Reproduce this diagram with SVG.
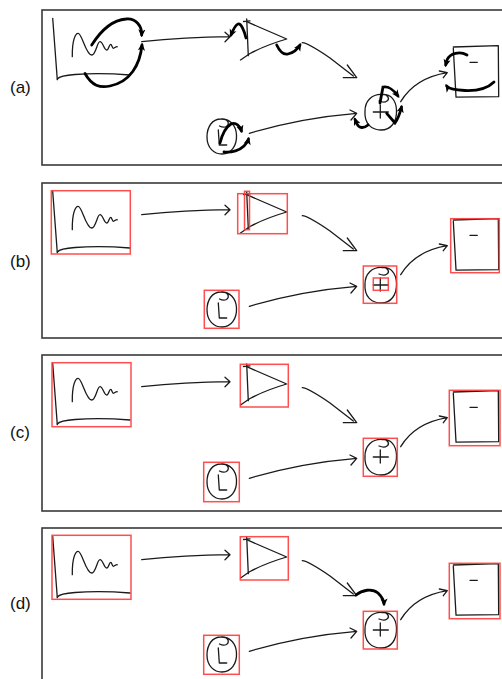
<svg xmlns="http://www.w3.org/2000/svg" xmlns:xlink="http://www.w3.org/1999/xlink" width="502" height="679" viewBox="0 0 502 679">
<style>
.frame{fill:#fff;stroke:#3a3a3a;stroke-width:1.6}
.lbl{font-family:"Liberation Sans",Arial,sans-serif;font-size:17px;fill:#111}
.ink{fill:none;stroke:#1a1a1a;stroke-width:1.3;stroke-linecap:round;stroke-linejoin:round}
.bold{fill:none;stroke:#000;stroke-width:2.8;stroke-linecap:round;marker-end:url(#bh)}
.sel{fill:none;stroke:#ff3b3b;stroke-width:1.5;stroke-opacity:0.9}
</style>
<defs>
<marker id="bh" viewBox="0 0 10 10" refX="7" refY="5" markerWidth="8" markerHeight="8" markerUnits="userSpaceOnUse" orient="auto">
<path d="M0,0.5 L10,5 L0,9.5 L2.5,5 z" fill="#000"/>
</marker>
<g id="s-wave">
<path class="ink" d="M52.7,18.3 L57.3,79.7"/>
<path class="ink" d="M57.3,79 Q60,75.5 75,74.5 Q100,72.5 130,75"/>
<path class="ink" d="M72.3,56.7 C72,40 75.5,33 78.3,33.3 C82,33.6 86,55 91.7,55 C96,55 97,41.7 100,41.7 C103,41.7 104,50 106.7,50 C109,50 109,44.3 110.7,44.3 C112,44.3 112,48.3 113.3,48.3 C115,48.3 116,46 117.3,46.7"/>
</g>
<g id="s-tri">
<path class="ink" d="M246.7,19 L248.3,55.7 M243.5,21.5 L250,20.8"/>
<path class="ink" d="M246.7,21.7 L286.7,39 Q266,45 250,53.5 L240.5,60"/>
</g>
<g id="s-plus">
<path class="ink" d="M382,94.5 C372,94 365,101 365,111 C364,124 372,130 381,130 C391,130 397,122 396.5,110 C396,100 391,94 382,94.5 C388,94 390,99 387,101 C385,102.5 381,101.8 379,101"/>
<path class="ink" d="M373.3,112 L388.3,112 M380.3,105 L380.3,118"/>
</g>
<g id="s-minus">
<path class="ink" d="M453.3,48.3 L456,96.7 M453.3,47 L498.3,45.7 L498.7,96.7 M456,97.2 L498.7,96.6"/>
<path class="ink" d="M470,62.3 L477.3,62.3"/>
</g>
<g id="s-L">
<path class="ink" d="M221,119 C212,119 207,127 207,137 C207,148 214,154 222,154 C231,154 237,146 236.5,135 C236,125 230,119 221,119 C228,118 230,124 226.5,126.5 C224.5,127.5 221.5,127 219.5,126"/>
<path class="ink" d="M218.3,130 L219.3,145 L226.7,145"/>
</g>
<g id="s-conn">
<path class="ink" d="M141.7,41.7 Q185,37 230,36.7 M225,32.3 L230,36.7 L225,41.7"/>
<path class="ink" d="M302.3,42.7 Q308,43 330,58 L353.3,76 M347.3,65 L356.7,77.7 L343.3,77.7"/>
<path class="ink" d="M249.3,133.3 Q300,118 356.7,113.3 M350,110 L356.7,113.3 L351,120"/>
<path class="ink" d="M400.7,101.7 Q415,78 447.3,72.7 M439.3,71 L447.3,72.7 L443.3,77.7"/>
</g>
</defs>

<g id="labels">
<text class="lbl" x="10" y="92.5">(a)</text>
<text class="lbl" x="10" y="267">(b)</text>
<text class="lbl" x="10" y="438">(c)</text>
<text class="lbl" x="10" y="609">(d)</text>
</g>

<g id="panel-a">
<rect class="frame" x="42" y="10" width="480" height="155"/>
<g id="a-wave"><use xlink:href="#s-wave"/></g>
<g id="a-tri"><use xlink:href="#s-tri"/></g>
<g id="a-plus"><use xlink:href="#s-plus"/></g>
<g id="a-minus"><use xlink:href="#s-minus"/></g>
<g id="a-L"><use xlink:href="#s-L"/></g>
<g id="a-connectors">
<use xlink:href="#s-conn"/>
<path class="bold" d="M91.7,45 C100,32 112,20 126,19 C136,18 142,26 141.7,35"/>
<path class="bold" d="M85,73.5 C92,86 100,88 110,86 C130,82 140,65 142,45"/>
<path class="bold" d="M246,38 C244,30 241,23 238,24 C235,25 233,30 231,35"/>
<path class="bold" d="M276.7,45 C280,52 284,55 288,54 C293,53 297,50 300,45"/>
<path class="bold" d="M368,125 C364,128.5 359,128.5 357,124 L355,119.5"/>
<path class="bold" d="M380,103 L383,87 C388,86 392,88 398,96"/>
<path class="bold" d="M386.7,113.3 L395,123 C398,119 400,113 401.5,107"/>
<path class="bold" d="M467,55 C460,51 450,53 447,60 L445.7,65"/>
<path class="bold" d="M494,82 C488,88 478,91 465,90.5 C455,90 448,88 446.7,86"/>
<path class="bold" d="M220,143 C222,135 226,127 231,124 C236,122 240,126 241.5,131"/>
<path class="bold" d="M224,152 C232,153 240,150 244,146 C247,143 248,141 248.5,139"/>
</g>
</g>

<g id="panel-b" transform="translate(0,173)">
<rect class="frame" x="42" y="10" width="480" height="155"/>
<g id="b-wave"><use xlink:href="#s-wave"/><rect class="sel" x="51.3" y="17.7" width="79" height="63.3"/></g>
<g id="b-tri"><use xlink:href="#s-tri"/><rect class="sel" x="237.7" y="20.7" width="49.6" height="40"/><rect class="sel" x="244.5" y="18.3" width="5" height="38.4"/></g>
<g id="b-plus"><use xlink:href="#s-plus"/><rect class="sel" x="363.3" y="93" width="33.4" height="37.3"/><rect class="sel" x="373.3" y="105" width="15" height="12.3"/></g>
<g id="b-minus"><use xlink:href="#s-minus"/><rect class="sel" x="450.7" y="45.7" width="48.6" height="54"/></g>
<g id="b-L"><use xlink:href="#s-L"/><rect class="sel" x="204.3" y="117.3" width="34.7" height="38"/></g>
<g id="b-connectors"><use xlink:href="#s-conn"/></g>
</g>

<g id="panel-c" transform="translate(0,345)">
<rect class="frame" x="42" y="10" width="480" height="156"/>
<g id="c-wave"><use xlink:href="#s-wave"/><rect class="sel" x="52" y="17.7" width="79" height="64"/></g>
<g id="c-tri"><use xlink:href="#s-tri"/><rect class="sel" x="240.3" y="19.3" width="48" height="42.7"/></g>
<g id="c-plus"><use xlink:href="#s-plus"/><rect class="sel" x="363.3" y="93.3" width="34" height="38"/></g>
<g id="c-minus"><use xlink:href="#s-minus"/><rect class="sel" x="449.3" y="45.3" width="50.7" height="55.4"/></g>
<g id="c-L"><use xlink:href="#s-L"/><rect class="sel" x="203.7" y="117.3" width="35.6" height="39.4"/></g>
<g id="c-connectors"><use xlink:href="#s-conn"/></g>
</g>

<g id="panel-d" transform="translate(0,518)">
<rect class="frame" x="42" y="10" width="480" height="170"/>
<g id="d-wave"><use xlink:href="#s-wave"/><rect class="sel" x="52" y="17.3" width="79" height="64"/></g>
<g id="d-tri"><use xlink:href="#s-tri"/><rect class="sel" x="240.3" y="18.7" width="48" height="43.3"/></g>
<g id="d-plus"><use xlink:href="#s-plus"/><rect class="sel" x="363.3" y="93.3" width="34" height="37.7"/></g>
<g id="d-minus"><use xlink:href="#s-minus"/><rect class="sel" x="449.3" y="45.3" width="50.7" height="55.4"/></g>
<g id="d-L"><use xlink:href="#s-L"/><rect class="sel" x="203.7" y="117.3" width="35.6" height="39"/></g>
<g id="d-connectors"><use xlink:href="#s-conn"/><path class="bold" d="M356,77 C362,72 372,70 378,75 C382,79 384,83 384,86"/></g>
</g>
</svg>
